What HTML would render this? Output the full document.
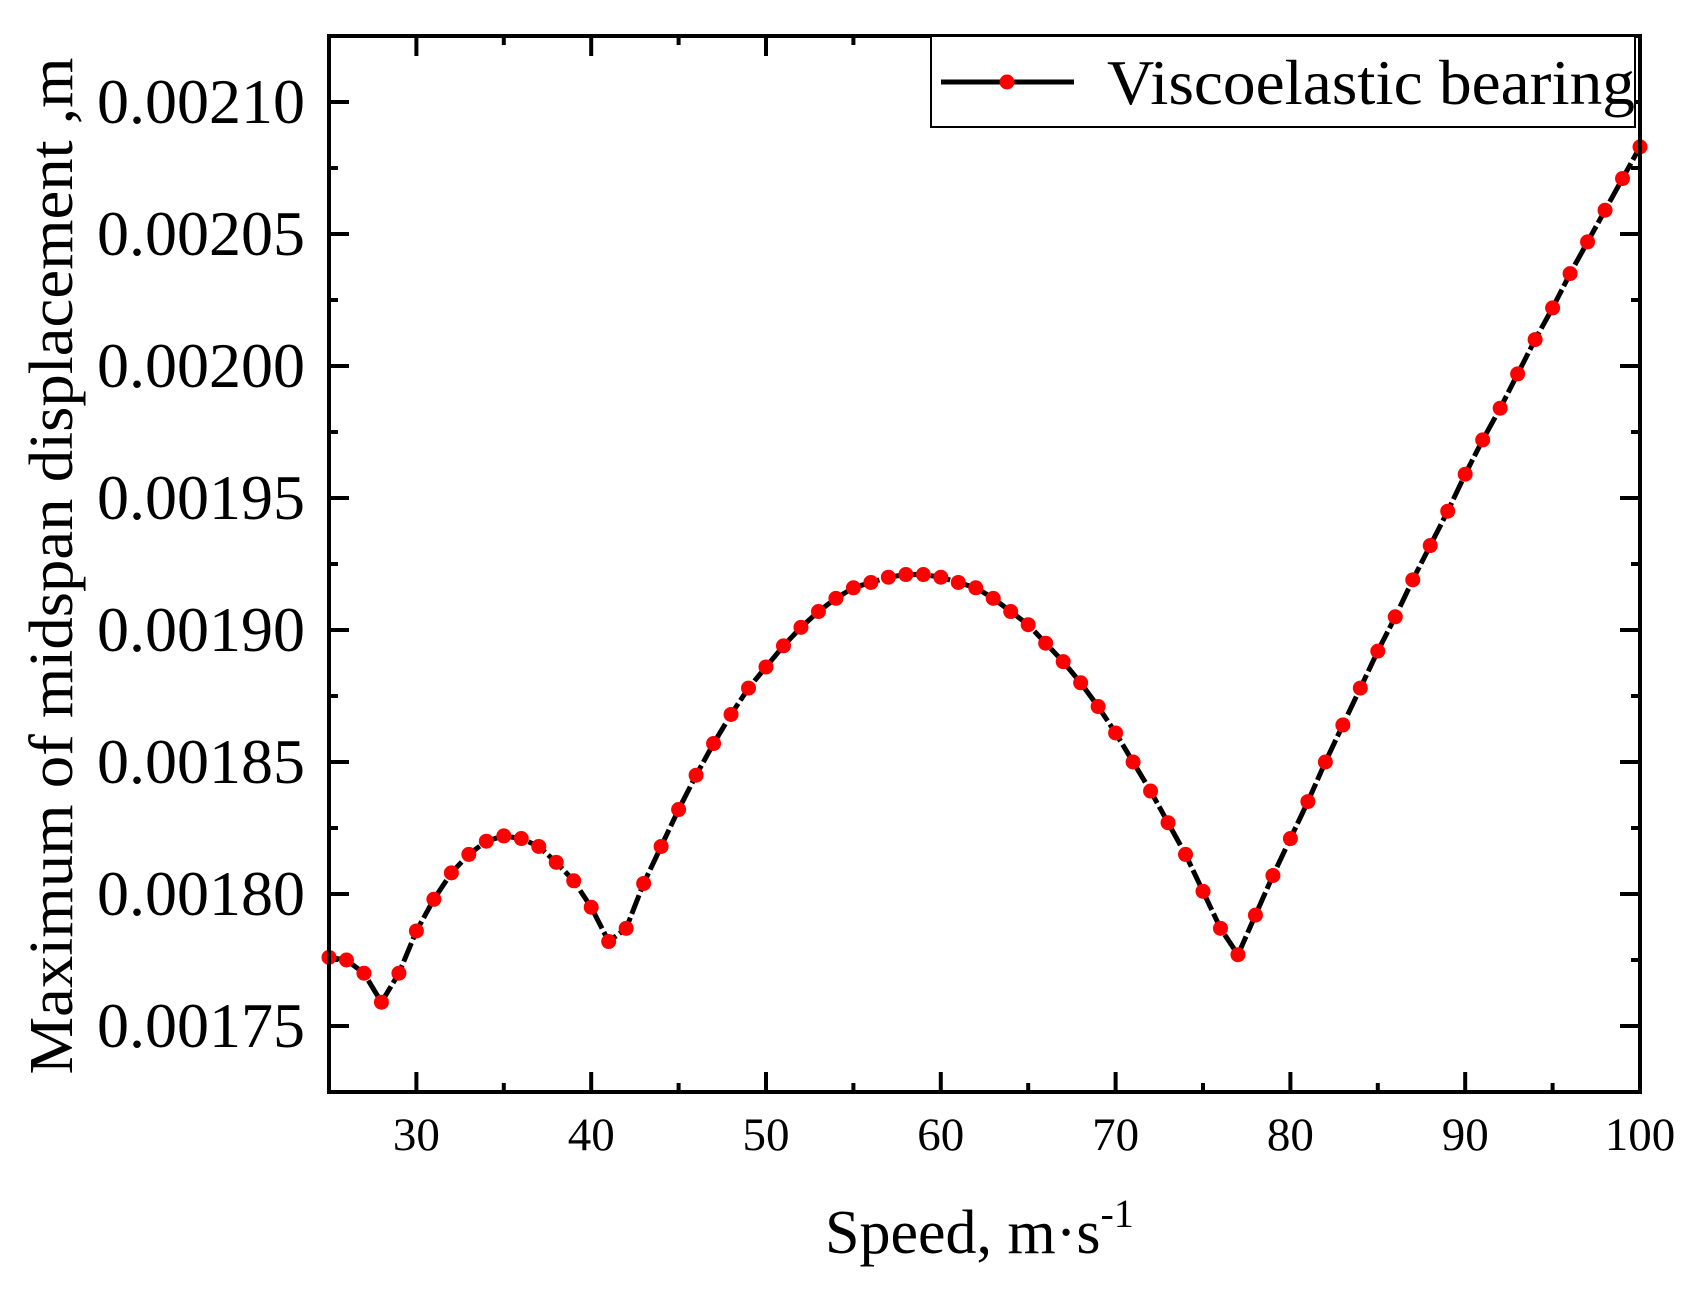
<!DOCTYPE html>
<html><head><meta charset="utf-8"><style>
html,body{margin:0;padding:0;background:#fff;}
svg{display:block;font-family:"Liberation Serif",serif;}
</style></head><body>
<svg id="chart" width="1697" height="1290" viewBox="0 0 1697 1290" xmlns="http://www.w3.org/2000/svg">
<rect x="0" y="0" width="1697" height="1290" fill="#fff"/>
<g id="ticks"></g>
<g id="series"></g>
<rect x="329" y="36" width="1311" height="1056" fill="none" stroke="#000" stroke-width="4"/>
<g>
<rect x="931" y="36" width="704" height="91" fill="#fff" stroke="#000" stroke-width="2"/>
<line x1="941" y1="82" x2="1074" y2="82" stroke="#000" stroke-width="5"/>
<circle cx="1007" cy="82" r="7.5" fill="#ff0000"/>
<text x="1107" y="104" font-size="64" textLength="528" lengthAdjust="spacingAndGlyphs">Viscoelastic bearing</text>
</g>
<text transform="translate(72,566) rotate(-90)" text-anchor="middle" font-size="62" textLength="1017" lengthAdjust="spacingAndGlyphs">Maximum of midspan displacement ,m</text>
<text x="825" y="1253" font-size="62">Speed, m·s<tspan dy="-26" font-size="40">-1</tspan></text>
</svg>
<script>
const speeds = [25,26,27,28,29,30,31,32,33,34,35,36,37,38,39,40,41,42,43,44,45,46,47,48,49,50,51,52,53,54,55,56,57,58,59,60,61,62,63,64,65,66,67,68,69,70,71,72,73,74,75,76,77,78,79,80,81,82,83,84,85,86,87,88,89,90,91,92,93,94,95,96,97,98,99,100];
const displacement = [0.001776,0.001775,0.00177,0.001759,0.00177,0.001786,0.001798,0.001808,0.001815,0.00182,0.001822,0.001821,0.001818,0.001812,0.001805,0.001795,0.001782,0.001787,0.001804,0.001818,0.001832,0.001845,0.001857,0.001868,0.001878,0.001886,0.001894,0.001901,0.001907,0.001912,0.001916,0.001918,0.00192,0.001921,0.001921,0.00192,0.001918,0.001916,0.001912,0.001907,0.001902,0.001895,0.001888,0.00188,0.001871,0.001861,0.00185,0.001839,0.001827,0.001815,0.001801,0.001787,0.001777,0.001792,0.001807,0.001821,0.001835,0.00185,0.001864,0.001878,0.001892,0.001905,0.001919,0.001932,0.001945,0.001959,0.001972,0.001984,0.001997,0.00201,0.002022,0.002035,0.002047,0.002059,0.002071,0.002083];
const xTicks = [30,40,50,60,70,80,90,100];
const yTicks = [0.00175,0.0018,0.00185,0.0019,0.00195,0.002,0.00205,0.0021];
const yTickLabels = ["0.00175","0.00180","0.00185","0.00190","0.00195","0.00200","0.00205","0.00210"];

const NS="http://www.w3.org/2000/svg";
const X0=329,X1=1640,Y0=36,Y1=1092;
function xs(v){return X0+(v-25)*(X1-X0)/75;}
function ys(v){return 1026-(v-0.00175)/0.00005*132;}
function mk(tag,attrs,parent){const e=document.createElementNS(NS,tag);for(const k in attrs)e.setAttribute(k,attrs[k]);parent.appendChild(e);return e;}
const tg=document.getElementById('ticks');
for(let v=25;v<=100;v+=5){
  const major=xTicks.includes(v);const L=major?20:9;const x=xs(v);
  let t=mk('line',{x1:x,y1:Y1,x2:x,y2:Y1-L,stroke:'#000','stroke-width':4},tg);
  
  
  t=mk('line',{x1:x,y1:Y0,x2:x,y2:Y0+L,stroke:'#000','stroke-width':4},tg);
  
  
}
xTicks.forEach(v=>{
  const t=mk('text',{x:xs(v),y:1150,'font-size':47,'text-anchor':'middle'},tg);
  t.textContent=v;
  
  
});
for(let i=-1;i<16;i++){
  const v=0.00175+i*0.000025;const y=ys(v);if(y<Y0||y>Y1)continue;
  const major=i%2===0;const L=major?20:9;
  let t=mk('line',{x1:X0,y1:y,x2:X0+L,y2:y,stroke:'#000','stroke-width':4},tg);
  
  
  t=mk('line',{x1:X1,y1:y,x2:X1-L,y2:y,stroke:'#000','stroke-width':4},tg);
  
  
}
yTicks.forEach((v,i)=>{
  const t=mk('text',{x:305,y:ys(v)+21,'font-size':64,'text-anchor':'end'},tg);
  t.textContent=yTickLabels[i];
  
  
});
const sg=document.getElementById('series');
const pts=speeds.map((s,i)=>xs(s)+','+ys(displacement[i])).join(' ');
const pl=mk('polyline',{points:pts,fill:'none',stroke:'#000','stroke-width':5,'stroke-dasharray':'20 4'},sg);


speeds.forEach((s,i)=>{
  const c=mk('circle',{cx:xs(s),cy:ys(displacement[i]),r:7.5,fill:'#ff0000'},sg);
  
  
});
</script>
</body></html>
